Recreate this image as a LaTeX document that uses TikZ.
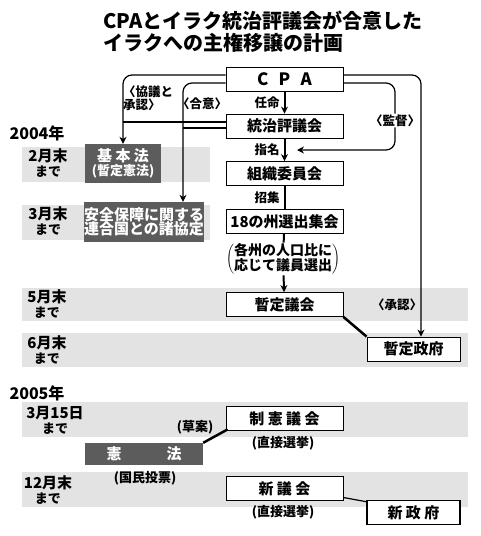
\documentclass[tikz,border=0pt]{standalone}
\usepackage{fontspec}
\setmainfont{Noto Sans CJK JP}
\usetikzlibrary{positioning,arrows.meta}
\definecolor{bandgray}{gray}{0.89}
\definecolor{darkbox}{gray}{0.36}
\newcommand{\fsz}[1]{\fontsize{#1}{#1}\selectfont}

\begin{document}
\begin{tikzpicture}[x=1pt, y=-1pt,
    box/.style={draw, fill=white, line width=0.8pt, minimum width=117pt, minimum height=24pt,
                inner sep=0pt, font=\bfseries\fsz{15}},
    gbox/.style={box, minimum width=93pt},
    dbox/.style={fill=darkbox, text=white, inner sep=0pt, align=center, font=\bfseries\fsz{15}},
    note/.style={inner sep=1pt, font=\bfseries\fsz{13}},
    lbl/.style={inner sep=1pt, font=\bfseries\fsz{12.5}, align=left},
    datel/.style={align=center, inner sep=0pt, font=\bfseries\fsz{15}},
    band/.style={fill=bandgray},
    conn/.style={line width=1.2pt, rounded corners=9pt},
    spine/.style={line width=2pt},
    >={Stealth[length=7pt, width=7pt]}]
  \useasboundingbox (0,0) rectangle (480,536);
  \node[anchor=north west, align=left, inner sep=0pt, font=\bfseries\fsz{20}] (title) at (103,11)
    {CPAとイラク統治評議会が合意した\\[2pt]イラクへの主権移譲の計画};
  % bands
  \fill[band] (22,147) rectangle (210,182);
  \fill[band] (22,205) rectangle (210,240);
  \fill[band] (22,288) rectangle (468,321);
  \fill[band] (22,333) rectangle (468,367);
  \fill[band] (22,402) rectangle (468,437);
  \fill[band] (22,472) rectangle (468,507);
  % dates
  \node[datel, font=\bfseries\fsz{16}] (y2004) at (37,133) {2004年};
  \node[datel] (feb) at (48,163) {2月末\\{\fsz{13}まで}};
  \node[datel] (mar) at (48,221) {3月末\\{\fsz{13}まで}};
  \node[datel] (may) at (47,304) {5月末\\{\fsz{13}まで}};
  \node[datel] (jun) at (47,350) {6月末\\{\fsz{13}まで}};
  \node[datel, font=\bfseries\fsz{16}] (y2005) at (37,393) {2005年};
  \node[datel] (mar15) at (55,420) {3月15日\\{\fsz{13}まで}};
  \node[datel] (dec) at (48,490) {12月末\\{\fsz{13}まで}};
  % 2004
  \node[box, font=\bfseries\fsz{17}] (cpa) at (284.5,79) {C\hspace{0.6em}P\hspace{0.6em}A};
  \node[box] (council) at (284.5,126) {統治評議会};
  \node[box] (comm) at (284.5,173.5) {組織委員会};
  \node[box] (conf) at (284.5,221.5) {18の州選出集会};
  \node[note, font=\bfseries\fsz{14}] (elect) at (283,259)
    {$\left(\begin{tabular}{@{}c@{}}各州の人口比に\\[-2pt]応じて議員選出\end{tabular}\right)$};
  \node[box] (pasm) at (284.5,304.5) {暫定議会};
  \node[gbox] (pgov) at (413.5,349) {暫定政府};
  \node[dbox, minimum width=76pt, minimum height=39pt] (basic) at (123,163.5)
    {基\ 本\ 法\\[-1pt]{\fsz{13}(暫定憲法)}};
  \node[dbox, minimum width=118pt, minimum height=40pt] (treaty) at (144,222)
    {安全保障に関する\\[-1pt]連合国との諸協定};
  \coordinate (treatyin) at ([xshift=39pt]treaty.north);
  % 2005
  \node[box] (cass) at (284.5,418.5) {制\ 憲\ 議\ 会};
  \node[note] (cassvote) at (283,443) {(直接選挙)};
  \node[dbox, minimum width=118pt, minimum height=22pt] (const) at (144,454) {憲\hspace{3em}法};
  \node[note] (refer) at (145,478) {(国民投票)};
  \node[note] (draft) at (195,427) {(草案)};
  \node[box] (nasm) at (284.5,488.5) {新\ 議\ 会};
  \node[note] (nasmvote) at (283,512) {(直接選挙)};
  \node[gbox, line width=1.6pt] (ngov) at (413.5,512.5) {新\ 政\ 府};
  % connectors
  \draw[spine, ->] (cpa) -- node[lbl, left=3pt] {任命} (council);
  \draw[spine, ->] (council) -- node[lbl, left=3pt] {指名} (comm);
  \draw[spine] (comm) -- node[lbl, left=3pt] {招集} (conf);
  \draw[spine] (conf) -- (elect);
  \draw[spine, ->] (elect) -- (pasm);
  \draw[line width=2.5pt] (pasm.south east) -- (pgov.north west);
  \draw[conn, ->] ([yshift=4pt]cpa.west) -| (basic.north);
  \draw[conn, ->] ([yshift=-4pt]cpa.west) -| (treatyin);
  \draw[line width=1.2pt] ([yshift=4pt]council.west) -- ([yshift=4pt]council.west -| basic.north);
  \draw[line width=1.2pt] ([yshift=-2pt]council.west) -- ([yshift=-2pt]council.west -| treatyin);
  \node[lbl] (consult) at (148,98) {〈協議と\\承認〉};
  \node[lbl] (agree) at (202,104) {〈合意〉};
  \coordinate (supv) at (395,150);
  \coordinate (supvend) at (297,150);
  \draw[conn, ->] ([yshift=-4pt]cpa.east) -| node[lbl, fill=white, pos=0.78] {〈監督〉} (supv) -- (supvend);
  \draw[conn, ->] ([yshift=4pt]cpa.east) -| ([xshift=7.5pt]pgov.north);
  \node[lbl] (approve) at (397,305) {〈承認〉};
  \draw[line width=2.5pt] (const.north east) -- ([xshift=2pt,yshift=1.5pt]cass.south west);
  \draw[line width=1.2pt] ([yshift=-9pt]nasm.east) -- ([yshift=-2pt]ngov.north west);
\end{tikzpicture}
\end{document}
